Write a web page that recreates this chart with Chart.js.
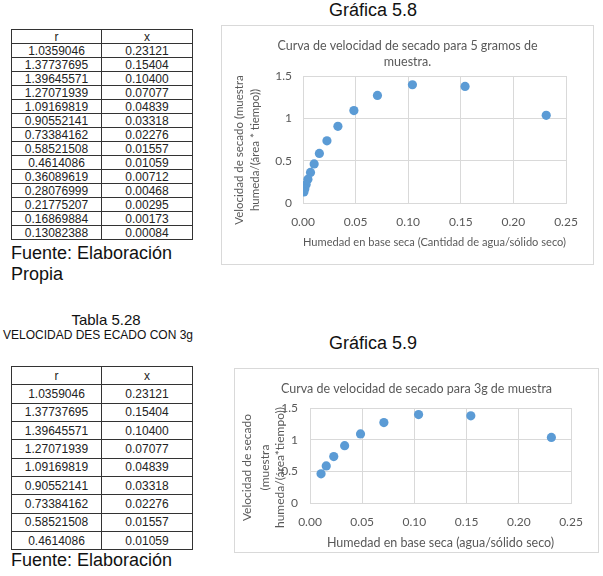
<!DOCTYPE html>
<html><head><meta charset="utf-8">
<script src="https://cdn.jsdelivr.net/npm/chart.js@4/dist/chart.umd.min.js"></script>
<style>
body{margin:0;width:603px;height:576px;background:#fff;position:relative;overflow:hidden;font-family:"Liberation Sans",Arial,sans-serif;color:#111;}
.abs{position:absolute;white-space:nowrap;}
table{border-collapse:collapse;position:absolute;left:11px;width:181px;table-layout:fixed;font-size:12px;color:#222;}
td{border:1px solid #333;text-align:center;padding:0;line-height:12px;overflow:hidden;}
.box{position:absolute;border:1px solid #d9d9d9;box-sizing:border-box;}
canvas{position:absolute;}
</style></head>
<body>
<script>
// Table 5.27 / Gráfica 5.8 data (5 g)
const rText5 = ["1.0359046","1.37737695","1.39645571","1.27071939","1.09169819","0.90552141","0.73384162","0.58521508","0.4614086","0.36089619","0.28076999","0.21775207","0.16869884","0.13082388"];
const xText5 = ["0.23121","0.15404","0.10400","0.07077","0.04839","0.03318","0.02276","0.01557","0.01059","0.00712","0.00468","0.00295","0.00173","0.00084"];
// Table 5.28 / Gráfica 5.9 data (3 g)
const rText3 = ["1.0359046","1.37737695","1.39645571","1.27071939","1.09169819","0.90552141","0.73384162","0.58521508","0.4614086"];
const xText3 = ["0.23121","0.15404","0.10400","0.07077","0.04839","0.03318","0.02276","0.01557","0.01059"];
const xTicks = [0, 0.05, 0.10, 0.15, 0.20, 0.25];
const yTicks = [0, 0.5, 1, 1.5];
</script>

<table id="t1" style="top:29px"><colgroup><col style="width:90px"><col style="width:91px"></colgroup></table>
<div class="abs" style="left:11px;top:243px;font-size:18px;line-height:21px;">Fuente: Elaboración<br>Propia</div>

<div class="abs" style="left:0;width:212px;top:311px;font-size:15px;line-height:17px;text-align:center;">Tabla 5.28</div>
<div class="abs" style="left:0;width:196px;top:328px;font-size:12px;line-height:14px;text-align:center;">VELOCIDAD DES ECADO CON 3g</div>
<table id="t2" style="top:366px"><colgroup><col style="width:90px"><col style="width:91px"></colgroup></table>
<div class="abs" style="left:11px;top:550px;font-size:18px;line-height:21px;">Fuente: Elaboración</div>

<div class="abs" style="left:273px;width:200px;top:0px;font-size:18px;line-height:20px;text-align:center;">Gráfica 5.8</div>
<div class="abs" style="left:273px;width:200px;top:333px;font-size:18px;line-height:20px;text-align:center;">Gráfica 5.9</div>

<div class="box" style="left:221px;top:25px;width:373px;height:240px;"></div>
<canvas id="c1" width="373" height="240" style="left:221px;top:25px"></canvas>
<div class="box" style="left:234px;top:368px;width:365px;height:185px;"></div>
<canvas id="c2" width="365" height="185" style="left:234px;top:368px"></canvas>

<script>
function fillTable(id, rs, xs, h){
  const t = document.getElementById(id);
  const add = (a,b)=>{const tr=document.createElement('tr');tr.style.height=h+'px';
    [a,b].forEach(v=>{const td=document.createElement('td');td.textContent=v;tr.appendChild(td);});t.appendChild(tr);};
  add('r','x');
  rs.forEach((r,i)=>add(r,xs[i]));
}
fillTable('t1', rText5, xText5, 14.04);
fillTable('t2', rText3, xText3, 18.33);

const FONT = 'Lato, "Open Sans", sans-serif';
const GREY = '#595959';
const GRID = '#d9d9d9';
const BLUE = '#5B9BD5';

const yTitlePlugin = {
  id:'yTitleCustom',
  afterDraw(chart, args, o){
    const ctx = chart.ctx, a = chart.chartArea;
    ctx.save();
    ctx.font = o.size + 'px ' + FONT;
    ctx.fillStyle = GREY; ctx.textAlign='center'; ctx.textBaseline='middle';
    o.lines.forEach((t,i)=>{
      ctx.save();
      ctx.translate(o.xs[i], (a.top+a.bottom)/2 + o.dy);
      ctx.rotate(-Math.PI/2);
      ctx.fillText(t,0,0);
      ctx.restore();
    });
    ctx.restore();
  }
};

function makeChart(id, rs, xs, cfg){
  const pts = rs.map((r,i)=>({x:parseFloat(xs[i]), y:parseFloat(r)}));
  return new Chart(document.getElementById(id), {
    type:'scatter',
    data:{datasets:[{data:pts, backgroundColor:BLUE, borderWidth:0, pointRadius:4.6, pointHoverRadius:4.6}]},
    plugins:[yTitlePlugin],
    options:{
      responsive:false, animation:false, events:[],
      layout:{padding:0},
      plugins:{
        legend:{display:false}, tooltip:{enabled:false},
        title:{display:true, text:cfg.title, color:GREY, font:{family:FONT,size:12.5,weight:'normal',lineHeight:1.3}, padding:cfg.titlePad},
        yTitleCustom:cfg.yTitle
      },
      scales:{
        x:{type:'linear', min:0, max:0.25,
          afterBuildTicks:s=>{s.ticks = xTicks.map(v=>({value:v}));},
          ticks:{color:GREY, font:{family:FONT,size:12}, padding:12, callback:v=>Number(v).toFixed(2), maxRotation:0},
          grid:{color:GRID, drawTicks:false}, border:{color:GRID},
          title:{display:true, text:cfg.xTitle, color:GREY, font:{family:FONT,size:cfg.xTitleSize,lineHeight:1.35}, padding:{top:0,bottom:cfg.xTitlePad}},
          afterFit:s=>{s.height = cfg.xH;}
        },
        y:{type:'linear', min:0, max:1.5,
          afterBuildTicks:s=>{s.ticks = yTicks.map(v=>({value:v}));},
          ticks:{color:GREY, font:{family:FONT,size:12}, padding:cfg.yPad, callback:v=>String(v)},
          grid:{color:GRID, drawTicks:false}, border:{color:GRID},
          afterFit:s=>{s.width = cfg.yW;}
        },
        y2:{type:'linear', position:'right', display:true,
          ticks:{display:false}, grid:{display:false}, border:{display:false},
          afterFit:s=>{s.width = cfg.rW;}
        }
      }
    }
  });
}

makeChart('c1', rText5, xText5, {
  title:['Curva de velocidad de secado para 5 gramos de','muestra.'],
  titlePad:{top:13,bottom:5.5},
  xTitle:'Humedad en base seca (Cantidad de agua/sólido seco)', xTitleSize:11.5, xTitlePad:15, xH:62,
  yW:82, rW:28, yPad:11,
  yTitle:{lines:['Velocidad de secado (muestra','humeda/(área * tiempo))'], xs:[18,34], dy:10.5, size:11.5}
});
makeChart('c2', rText3, xText3, {
  title:'Curva de velocidad de secado para 3g de muestra',
  titlePad:{top:13,bottom:10.8},
  xTitle:'Humedad en base seca (agua/sólido seco)', xTitleSize:12.5, xTitlePad:2, xH:50,
  yW:76, rW:28, yPad:12,
  yTitle:{lines:['Velocidad de secado','(muestra','humeda/(área*tiempo))'], xs:[13.5,31,46.5], dy:12, size:12}
});
</script>
</body></html>
